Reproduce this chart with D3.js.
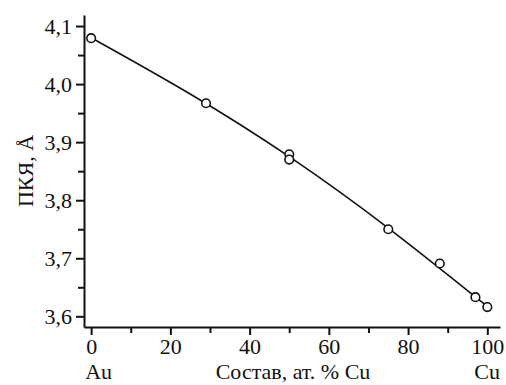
<!DOCTYPE html>
<head>
<meta charset="utf-8">
<title>ПКЯ Au-Cu</title>
<style>
  body { margin: 0; background: #fff; }
  text { font-family: "Liberation Serif", "Times New Roman", serif; fill: #111; }
</style>
</head>
<body>
<script src="https://d3js.org/d3.v7.min.js"></script>
<script>
// measured points (composition, at.% Cu  -> lattice parameter, A)
let compX = [0, 29, 50, 50, 75, 88, 97, 100];
let latticeY = [4.079, 3.967, 3.879, 3.870, 3.750, 3.691, 3.633, 3.616];

// smooth fitted line through the points
let fitX = [0, 25, 50, 75, 100];
let fitY = [4.080, 3.983, 3.875, 3.752, 3.617];

let xMajor = [0, 20, 40, 60, 80, 100];
let xMinor = [10, 30, 50, 70, 90];
let yMajor = [3.6, 3.7, 3.8, 3.9, 4.0, 4.1];
let yMinor = [3.65, 3.75, 3.85, 3.95, 4.05];

let width = 506;
let height = 385;

let svg = d3.select("body").append("svg")
  .attr("width", width)
  .attr("height", height);

let x = d3.scaleLinear()
  .domain([-1.8, 103.2])
  .range([84, 500]);

let y = d3.scaleLinear()
  .domain([3.5816, 4.119])
  .range([327, 15]);

let comma = d => d.toFixed(1).replace(".", ",");

// minor ticks first (no labels, no domain)
svg.append("g")
  .attr("transform", "translate(0," + y.range()[0] + ")")
  .call(d3.axisBottom(x).tickValues(xMinor).tickSize(6).tickFormat(""))
  .call(g => g.select(".domain").remove())
  .call(g => g.selectAll("line").attr("stroke", "#111").attr("stroke-width", 2));

svg.append("g")
  .attr("transform", "translate(" + x.range()[0] + ",0)")
  .call(d3.axisLeft(y).tickValues(yMinor).tickSize(6).tickFormat(""))
  .call(g => g.select(".domain").remove())
  .call(g => g.selectAll("line").attr("stroke", "#111").attr("stroke-width", 2));

// major axes
let xAxis = svg.append("g")
  .attr("transform", "translate(0," + y.range()[0] + ")")
  .call(d3.axisBottom(x).tickValues(xMajor).tickSize(8).tickSizeOuter(0).tickPadding(3).tickFormat(d3.format("d")));

let yAxis = svg.append("g")
  .attr("transform", "translate(" + x.range()[0] + ",0)")
  .call(d3.axisLeft(y).tickValues(yMajor).tickSize(8).tickSizeOuter(0).tickPadding(4).tickFormat(comma));

[xAxis, yAxis].forEach(function (g) {
  g.select(".domain").attr("stroke", "#111").attr("stroke-width", 2);
  g.selectAll(".tick line").attr("stroke", "#111").attr("stroke-width", 2);
  g.selectAll(".tick text")
    .style("font-family", "'Liberation Serif', serif")
    .style("font-size", "22px")
    .attr("fill", "#111");
});

// fitted curve
let line = d3.line()
  .x(d => x(d[0]))
  .y(d => y(d[1]))
  .curve(d3.curveNatural);

svg.append("path")
  .datum(fitX.map((d, i) => [d, fitY[i]]))
  .attr("d", line)
  .attr("fill", "none")
  .attr("stroke", "#111")
  .attr("stroke-width", 1.6);

// open circles
svg.selectAll(".pt")
  .data(compX.map((d, i) => [d, latticeY[i]]))
  .enter()
  .append("circle")
  .attr("class", "pt")
  .attr("cx", d => x(d[0]))
  .attr("cy", d => y(d[1]))
  .attr("r", 4.3)
  .attr("fill", "white")
  .attr("stroke", "#111")
  .attr("stroke-width", 1.6);

// axis titles
svg.append("text")
  .attr("x", x(0) - 6)
  .attr("y", 379)
  .style("font-size", "22px")
  .text("Au");

svg.append("text")
  .attr("x", 293)
  .attr("y", 379)
  .attr("text-anchor", "middle")
  .style("font-size", "22px")
  .text("Состав, ат. % Cu");

svg.append("text")
  .attr("x", 500)
  .attr("y", 379)
  .attr("text-anchor", "end")
  .style("font-size", "22px")
  .text("Cu");

svg.append("text")
  .attr("transform", "translate(33,171) rotate(-90)")
  .attr("text-anchor", "middle")
  .style("font-size", "22px")
  .text("ПКЯ, Å");
</script>
</body>
